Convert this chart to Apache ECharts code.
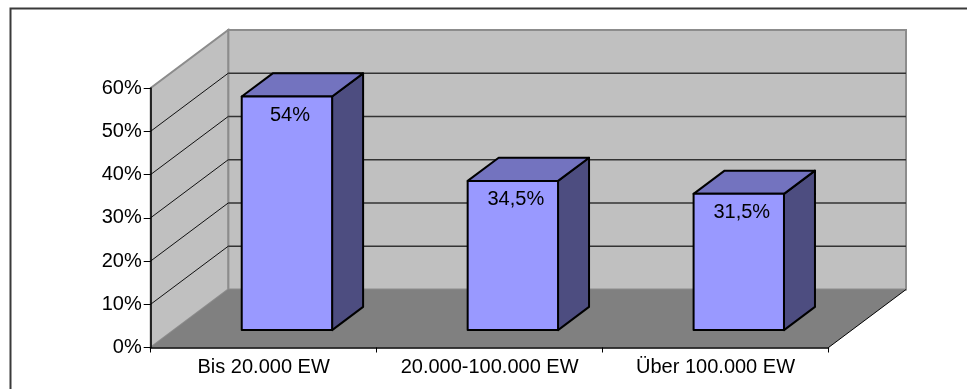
<!DOCTYPE html>
<html><head><meta charset="utf-8">
<script src="https://cdn.jsdelivr.net/npm/echarts@6/dist/echarts.min.js"></script>
<style>html,body{margin:0;padding:0;background:#fff}#c{width:967px;height:389px}</style>
</head><body><div id="c"></div>
<script>
const categories = ['Bis 20.000 EW', '20.000-100.000 EW', 'Über 100.000 EW'];
const values = [54, 34.5, 31.5];
const valueLabels = ['54%', '34,5%', '31,5%'];
const yTicks = [0, 10, 20, 30, 40, 50, 60];

const DX = 77.5, DY = -58;      // projection of full depth
const D0 = 0.3, D1 = 0.7, BW = 0.4;
const FONT = 'Liberation Sans, Arial, sans-serif';

function renderWalls(params, api) {
  const w = api.size([1, 0])[0];
  const xL = api.coord([0, 0])[0] - w / 2;
  const xR = api.coord([categories.length - 1, 0])[0] + w / 2;
  const y = v => api.coord([0, v])[1];
  const yTop = y(yTicks[yTicks.length - 1]), y0 = y(yTicks[0]);
  const ch = [];
  ch.push({type: 'polygon', shape: {points: [[xL + DX, yTop + DY], [xR + DX, yTop + DY], [xR + DX, y0 + DY], [xL + DX, y0 + DY]]},
    style: {fill: '#C0C0C0', stroke: '#8C8C8C', lineWidth: 2}});
  ch.push({type: 'polygon', shape: {points: [[xL, y0], [xL, yTop], [xL + DX, yTop + DY], [xL + DX, y0 + DY]]},
    style: {fill: '#C0C0C0', stroke: '#8C8C8C', lineWidth: 2}});
  yTicks.slice(1, -1).forEach(v => {
    const yy = y(v);
    ch.push({type: 'line', shape: {x1: xL, y1: yy, x2: xL + DX, y2: yy + DY}, style: {stroke: '#111', lineWidth: 1}});
    ch.push({type: 'line', shape: {x1: xL + DX, y1: yy + DY, x2: xR + DX, y2: yy + DY}, style: {stroke: '#333', lineWidth: 1.4}});
  });
  ch.push({type: 'polygon', shape: {points: [[xL, y0], [xR, y0], [xR + DX, y0 + DY], [xL + DX, y0 + DY]]},
    style: {fill: '#808080'}});
  ch.push({type: 'line', shape: {x1: xR, y1: y0, x2: xR + DX, y2: y0 + DY}, style: {stroke: '#000', lineWidth: 1}});
  return {type: 'group', children: ch};
}

function renderBar(params, api) {
  const i = api.value(0), v = api.value(1);
  const c = api.coord([i, v]), b = api.coord([i, 0]);
  const w = api.size([1, 0])[0] * BW;
  const x0 = c[0] - w / 2 + D0 * DX, x1 = x0 + w;
  const yT = c[1] + D0 * DY, yB = b[1] + D0 * DY;
  const ddx = (D1 - D0) * DX, ddy = (D1 - D0) * DY;
  const st = {stroke: '#000', lineWidth: 2, lineJoin: 'round'};
  return {type: 'group', children: [
    {type: 'polygon', shape: {points: [[x1, yT], [x1 + ddx, yT + ddy], [x1 + ddx, yB + ddy], [x1, yB]]},
      style: Object.assign({fill: '#4D4D80'}, st)},
    {type: 'polygon', shape: {points: [[x0, yT], [x1, yT], [x1 + ddx, yT + ddy], [x0 + ddx, yT + ddy]]},
      style: Object.assign({fill: '#7373BF'}, st)},
    {type: 'rect', shape: {x: x0, y: yT, width: w, height: yB - yT},
      style: Object.assign({fill: '#9999FF'}, st)},
    {type: 'text', x: (x0 + x1) / 2 + 3, y: yT + 19,
      style: {text: valueLabels[params.dataIndex], fill: '#000', font: '20px ' + FONT, align: 'center', verticalAlign: 'middle'}}
  ]};
}

const chart = echarts.init(document.getElementById('c'), null, {renderer: 'canvas'});
chart.setOption({
  animation: false,
  backgroundColor: '#fff',
  graphic: [{type: 'rect', left: 8, top: 6, shape: {width: 1200, height: 600},
    style: {fill: null, stroke: '#3a3a3a', lineWidth: 2}, z: 100, silent: true}],
  grid: {left: 150.7, right: 138.5, top: 88, bottom: 41.5},
  xAxis: {
    type: 'category', data: categories, boundaryGap: true,
    axisLine: {show: true, lineStyle: {color: '#000', width: 1.5}},
    axisTick: {show: true, length: 5, alignWithLabel: false, lineStyle: {color: '#000'}},
    axisLabel: {color: '#000', fontSize: 20, fontFamily: FONT, margin: 10, interval: 0},
    splitLine: {show: false}, z: 10
  },
  yAxis: {
    type: 'value', min: 0, max: 60, interval: 10,
    axisLine: {show: true, lineStyle: {color: '#000', width: 1.5}},
    axisTick: {show: true, length: 7, lineStyle: {color: '#000'}},
    axisLabel: {color: '#000', fontSize: 20, fontFamily: FONT, margin: 9, formatter: '{value}%'},
    splitLine: {show: false}, z: 10
  },
  series: [
    {type: 'custom', renderItem: renderWalls, data: [[0, 0]], z: 1, silent: true},
    {type: 'custom', renderItem: renderBar, data: values.map((v, i) => [i, v]), z: 5}
  ]
});
</script></body></html>
